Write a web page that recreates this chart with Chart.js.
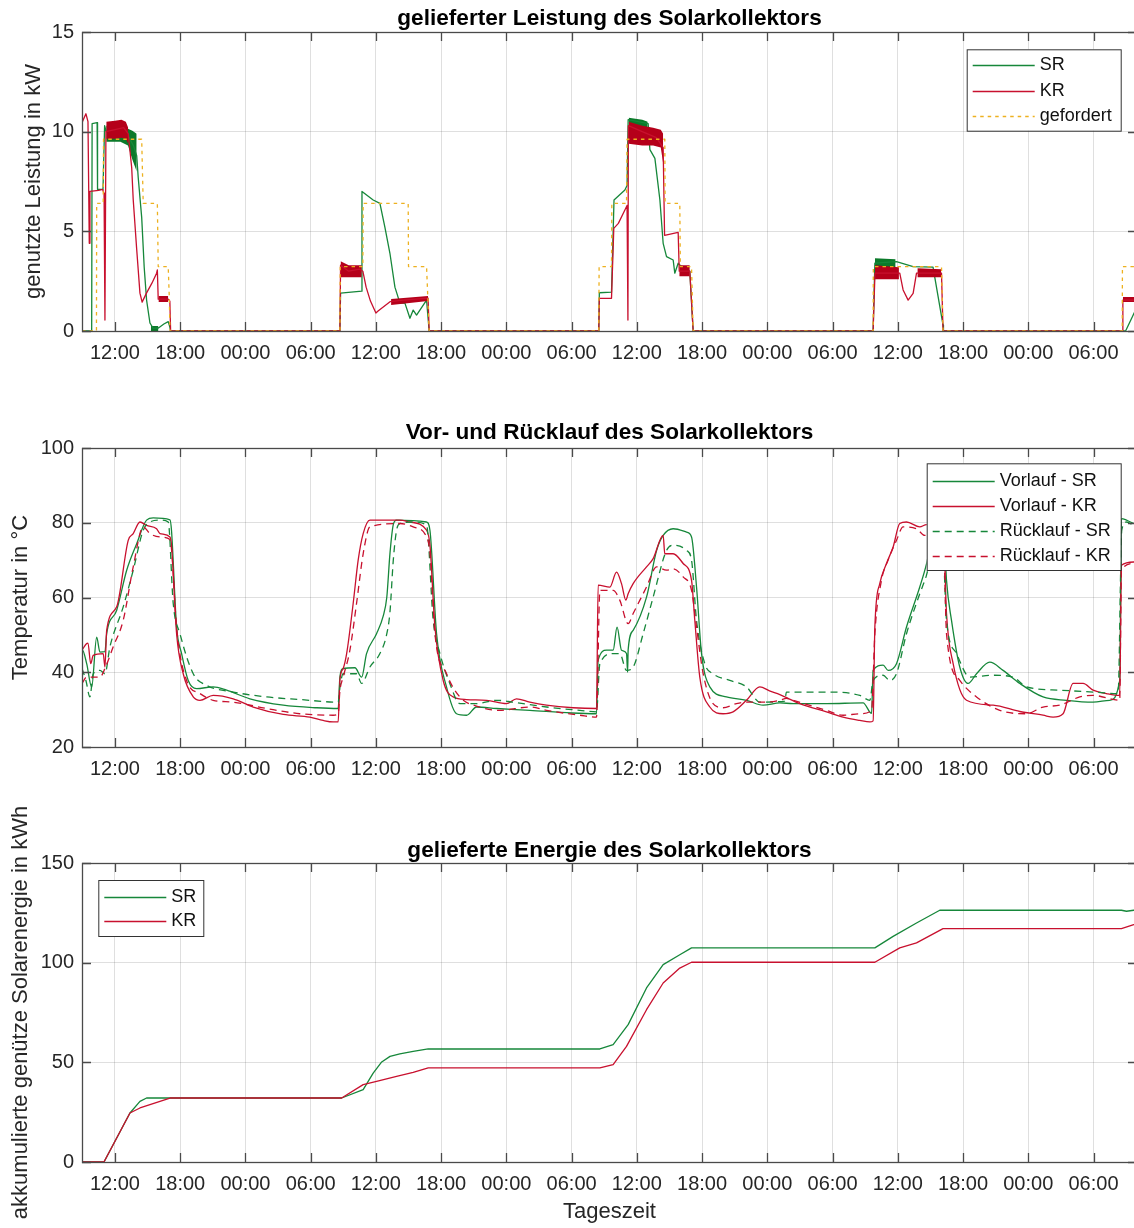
<!DOCTYPE html>
<html>
<head>
<meta charset="utf-8">
<script src="https://cdn.jsdelivr.net/npm/chart.js@4.4.1/dist/chart.umd.min.js"></script>
<style>
html, body { margin: 0; padding: 0; background: #fff; overflow: hidden; width: 1134px; height: 1228px; }
canvas { position: absolute; left: 0; }
</style>
</head>
<body>
<canvas id="c1" width="1140" height="390" style="top:0"></canvas>
<canvas id="c2" width="1140" height="390" style="top:400px"></canvas>
<canvas id="c3" width="1140" height="428" style="top:800px"></canvas>
<script>
// time axis: hours since 00:00 of the first day
const X_MIN = 8.97, X_MAX = 106.0;
const tickHours = [12, 18, 24, 30, 36, 42, 48, 54, 60, 66, 72, 78, 84, 90, 96, 102];

// --- genutzte Leistung in kW ---
const powerSR = [[8.97,0],[9.86,0],[9.9,10.4],[10.36,10.45],[10.4,7.1],[10.9,7.1],[11.05,10.3],[11.2,10.0],[12.5,9.9],[13.2,9.8],[13.7,9.3],[14.0,8.8],[14.14,7.7],[14.46,5.7],[14.69,3.2],[14.91,1.55],[15.22,0.4],[15.52,0.13],[16.0,0.15],[16.5,0.35],[16.9,0.47],[17.05,0.2],[17.12,0],
  [32.69,0],[32.75,1.9],[34.7,2.0],[34.72,7.0],[35.75,6.57],[36.37,6.4],[36.83,5.2],[37.29,3.9],[37.75,2.2],[38.21,1.4],[38.67,1.4],[39.13,0.64],[39.43,1.05],[39.74,0.8],[40.66,1.55],[40.9,0],
  [56.5,0],[56.55,1.92],[57.67,1.95],[57.9,6.57],[58.9,7.07],[59.1,7.3],[59.2,10.6],[61.04,10.4],[61.2,9.1],[61.66,8.66],[62.12,6.57],[62.42,4.4],[62.73,3.73],[63.34,3.56],[63.49,2.9],[63.8,3.4],[64.11,3.23],[64.87,3.0],[65.18,0],
  [81.73,0],[81.89,3.4],[83.88,3.48],[85.41,3.23],[87.24,3.2],[88.16,0.3],[88.2,0],[104.95,0],[106,1.2]];
const powerKR = [[8.97,10.45],[9.33,10.9],[9.52,10.5],[9.64,4.4],[9.7,7.0],[10.5,7.05],[10.87,7.1],[11.0,6.9],[11.08,0.55],[11.17,10.0],[12.0,10.1],[12.8,10.2],[13.22,9.9],[13.54,8.2],[13.68,6.6],[14.0,4.1],[14.3,1.9],[14.5,1.45],[14.9,1.9],[15.4,2.4],[15.83,2.9],[15.9,3.06],[15.98,1.6],[16.9,1.6],[17.05,1.5],[17.12,0],
  [32.69,0],[32.75,3.3],[33.5,3.0],[34.5,3.1],[34.8,3.0],[35.1,2.2],[35.5,1.5],[36.0,0.9],[36.2,1.0],[37.3,1.47],[38.5,1.55],[40.8,1.65],[40.9,0],
  [56.5,0],[56.55,1.64],[57.67,1.64],[57.88,5.15],[58.3,5.4],[58.9,6.07],[59.1,6.3],[59.18,0.55],[59.22,10.3],[60.5,10.0],[61.8,9.7],[62.42,9.2],[62.55,4.8],[63.8,4.95],[63.9,3.0],[64.87,3.0],[65.18,0],
  [81.73,0],[81.9,2.9],[84.18,2.9],[84.49,2.06],[84.95,1.55],[85.41,1.89],[85.72,2.9],[88.02,2.9],[88.16,0],[104.64,0],[104.7,1.55],[106,1.55]];
const powerReq = [[8.97,0],[10.3,0],[10.32,6.4],[10.92,6.4],[10.95,9.62],[14.46,9.62],[14.6,6.4],[15.9,6.4],[15.98,3.23],[16.9,3.23],[17.0,1.67],[17.06,0],
  [32.69,0],[32.72,3.23],[34.8,3.23],[34.83,6.4],[38.97,6.4],[39.0,3.23],[40.66,3.23],[40.9,0],
  [56.5,0],[56.53,3.23],[57.67,3.23],[57.7,6.4],[59.05,6.4],[59.1,9.62],[62.57,9.62],[62.6,6.4],[63.95,6.4],[64.0,3.23],[65.03,3.23],[65.18,0],
  [81.73,0],[81.75,3.23],[88.02,3.23],[88.16,0],[104.64,0],[104.66,3.23],[106,3.23]];
// noisy stretches of the measured power: [hour, low, high]
const bandsSR = [
  [[11.2,9.5,10.3],[12.5,9.5,10.25],[13.2,9.3,10.15],[13.6,8.6,10.05],[14.0,8.0,9.9]],
  [[15.3,0,0.25],[16.0,0,0.25]],
  [[59.25,10.0,10.7],[60.5,9.9,10.6],[61.0,9.6,10.5]],
  [[81.9,3.1,3.65],[83.8,3.2,3.6]]
];
const bandsKR = [
  [[11.2,9.65,10.5],[12.0,9.65,10.55],[12.6,9.7,10.6],[13.0,9.65,10.5],[13.22,9.4,10.2]],
  [[16.0,1.45,1.75],[16.9,1.45,1.75]],
  [[32.75,2.7,3.5],[33.5,2.7,3.3],[34.7,2.7,3.3]],
  [[37.4,1.3,1.6],[40.8,1.5,1.75]],
  [[59.25,9.4,10.5],[60.5,9.3,10.3],[61.5,9.3,10.2],[62.2,9.2,10.1],[62.42,8.4,9.9]],
  [[63.9,2.75,3.3],[64.87,2.75,3.3]],
  [[81.9,2.6,3.3],[84.1,2.6,3.2]],
  [[85.8,2.7,3.15],[88.0,2.7,3.1]],
  [[104.7,1.45,1.7],[106,1.45,1.7]]
];

// --- Temperatur in °C ---
const vorlaufSR = [[8.97,20],[9.0,46],[9.4,42.3],[9.86,36],[10.32,49.4],[10.62,45.4],[11.08,45.5],[11.24,50.3],[12.16,56.6],[13.08,67.3],[14.0,74.4],[14.91,80.7],[15.52,81.3],[17.06,80.8],[17.2,78],[17.67,52.1],[18.13,45],[18.74,37.8],[19.51,35.6],[21.03,36.1],[22.27,35.2],[24.41,32.9],[27.48,31.2],[30.55,30.5],[32.53,30.3],
  [32.69,38.7],[32.99,41],[34.07,41.2],[34.69,38.7],[35.14,45],[36.06,50.3],[36.67,55],[37.0,60],[37.3,72],[37.6,79.5],[37.9,80.7],[40.66,80.2],[40.97,78],[41.58,50.3],[42.5,36],[43.42,28.9],[44.34,28.5],[45.26,30.7],[47.1,30.3],[50.16,29.8],[53.99,29.1],[56.29,28.9],
  [56.44,43.2],[57.21,45.9],[57.82,45.9],[58.18,52.1],[58.59,45.9],[59.05,45],[59.15,40],[59.2,46],[59.66,51.2],[60.89,60.1],[61.82,72.6],[62.42,76.6],[63.34,78.4],[64.57,77.5],[65.03,76.2],[65.49,62.8],[65.95,45],[66.71,36.1],[68.24,33.4],[70.08,32.5],[71.61,31.2],[73.15,31.8],[74.37,31.6],[77.44,31.6],[80.81,31.8],[81.59,29],
  [81.73,40.5],[82.65,41.9],[83.11,40.5],[83.88,42.3],[84.8,52.1],[86.02,62.8],[86.64,69],[87.0,74],[87.5,79],[88.2,79.5],[88.35,72],[88.48,64.6],[88.94,53.9],[89.7,41.4],[90.47,37],[91.24,39.6],[92.46,42.7],[93.68,40.5],[95.22,37],[97.36,33.4],[99.51,32.5],[101.96,32],[103.49,32.5],[104.41,37.8],
  [104.57,81.1],[105.03,80.7],[105.7,79.8],[106,79.6]];
const vorlaufKR = [[8.97,45.9],[9.4,47.7],[9.52,47.8],[9.77,42.3],[10.0,44.5],[10.92,45],[11.08,41.4],[11.24,51.2],[12.16,57.5],[13.22,75.3],[13.68,77.1],[14.3,80.2],[14.91,79.3],[15.83,78.4],[16.14,77.1],[17.06,76.2],[17.2,74],[17.67,50.3],[18.28,39.6],[19.2,33.4],[19.82,32.5],[21.03,33.8],[22.88,32.9],[24.72,30.7],[27.48,28.7],[29.93,28],[31.15,27.1],[32.07,26.7],[32.53,26.7],
  [32.69,38],[32.99,41],[33.31,45],[33.91,58.4],[34.37,70],[34.83,77.1],[35.45,80.7],[38.21,80.7],[39.13,80.2],[40.66,78],[40.97,74],[41.43,52.1],[42.19,37.8],[43.11,33.4],[44.34,32.7],[46.18,32.5],[48.01,31.6],[48.93,32.9],[50.16,32],[51.69,31.2],[54.14,30.5],[56.29,30.3],
  [56.44,63.3],[57.52,62.8],[58.13,66.8],[58.59,63.7],[58.99,59.3],[59.2,61],[59.66,63.7],[60.89,68.2],[61.5,70.4],[62.42,76.6],[62.57,71.7],[63.34,71.7],[64.26,69.1],[65.03,64.6],[65.33,53.9],[65.79,38.7],[66.71,30.7],[67.93,28.9],[68.85,29.4],[70.08,32.5],[71.31,36.1],[72.2,35.0],[73.15,34.0],[74.99,31.6],[77.44,29.4],[78.97,28],[80.51,27.1],[81.43,26.7],[81.73,27],
  [81.89,52.1],[82.34,63.7],[82.96,69.1],[83.57,73.5],[84.18,79.8],[84.8,80.2],[86.02,78.9],[86.64,79.5],[87.5,79],[88.2,77],[88.48,55.7],[89.09,42.3],[90.32,32.5],[92.77,31.2],[95.22,29.5],[97.36,28.5],[98.28,28],[99.2,28.9],[100.12,37],[101.04,37],[101.96,35.2],[103.19,34.3],[104.41,33.8],
  [104.57,68.6],[105.7,69.5],[106,69.6]];
const ruecklaufSR = [[8.97,41],[9.33,37.8],[9.7,33.4],[10.0,39.6],[10.62,40.5],[11.08,39.6],[11.54,46.8],[12.76,57.5],[13.68,67.3],[14.6,78],[15.22,80.2],[16.14,80.7],[16.9,80.2],[17.36,58.4],[17.98,50.3],[19.2,39.6],[20.43,36.5],[22.88,34.7],[25.95,33.4],[29.01,32.7],[32.53,32],
  [32.69,36],[32.99,39.6],[34.22,39.6],[34.69,37],[35.45,41.4],[36.37,45],[36.98,50],[37.29,56],[37.6,70],[37.9,78],[38.21,79.8],[39.43,80.2],[40.66,79.3],[41.27,53.9],[41.89,45],[42.8,37],[43.72,31.6],[45.26,31.6],[47.1,32.5],[48.62,32],[51.69,30.7],[54.76,29.8],[56.29,29.4],
  [56.6,42.3],[57.82,45],[58.43,45],[59.05,40.5],[59.66,41.4],[60.58,50.3],[61.5,60.1],[62.73,72.6],[63.34,74],[64.57,72.6],[65.03,70],[65.49,53.9],[66.25,42.3],[67.01,39.6],[68.55,37.8],[70.08,36.1],[71.31,32],[73.6,32.3],[73.76,34.7],[77.44,34.7],[80.51,33.8],[81.43,32.5],
  [81.73,37.8],[82.65,39.2],[83.26,37.8],[83.88,39.6],[84.8,50.3],[86.02,61],[86.64,66],[87.3,74],[88.1,76],[88.48,53.9],[89.4,45],[90.62,38.7],[92.77,39.2],[94.6,38.7],[95.83,36.1],[98.9,35.2],[101.96,34.7],[104.26,34.3],
  [104.6,78],[105.03,80.2],[105.7,79.3],[106,79.2]];
const ruecklaufKR = [[8.97,37],[9.4,38.7],[10.62,38.7],[11.08,41],[11.84,46.8],[12.76,53.9],[13.68,68.2],[14.6,78.9],[15.22,77.1],[16.14,76.2],[17.06,75.5],[17.2,73],[17.67,52.1],[18.59,37.8],[19.82,34.3],[21.03,32.5],[22.88,32],[25.95,30.3],[29.01,28.9],[32.07,28.5],[32.53,28.9],
  [32.69,35],[32.99,38.7],[33.61,45.9],[34.22,58.4],[34.83,71.7],[35.45,78.9],[38.21,79.8],[39.43,78.9],[40.66,76.2],[40.97,72],[41.43,50.3],[42.5,39.6],[43.72,33.4],[45.56,30.7],[47.4,29.8],[50.16,30.7],[51.69,29.8],[54.76,28.5],[56.29,28],
  [56.6,61.9],[57.82,61.9],[58.43,59.3],[59.2,53],[59.66,55.7],[60.89,62.8],[61.82,68.2],[62.73,67.3],[63.34,67.7],[64.26,65.5],[65.03,61.9],[65.49,52.1],[66.1,39.6],[67.01,31.6],[67.93,30.5],[69.16,31.6],[70.08,32],[71.91,32],[73.15,32.5],[73.76,33.0],[74.37,32.5],[77.44,29.8],[78.97,28.5],[80.51,28.9],[81.59,29.8],
  [81.89,50.3],[82.5,64.6],[83.11,70],[83.88,75.3],[84.49,78.9],[85.72,78.4],[86.48,76.6],[87.3,77],[88.2,75],[88.48,50.3],[89.7,37.8],[91.24,33.4],[93.38,29.8],[95.83,28.9],[97.36,30.7],[98.9,31.2],[100.74,33.4],[101.96,33.8],[104.41,32.5],
  [104.57,67.3],[105.7,69.1],[106,69.2]];

// --- akkumulierte Solarenergie in kWh ---
const energySR = [[8.97,0],[10.99,0],[13.38,24.6],[14.3,30.4],[14.91,32.1],[17.06,32.1],[32.85,32.1],[34.83,36.3],[35.75,44.6],[36.5,50],[37.3,53],[38.2,54.2],[39.43,55.5],[40.81,56.7],[56.6,56.7],[57.82,58.9],[59.2,68.9],[60.89,87.3],[62.42,99],[63.95,104],[65.03,107.4],[81.89,107.4],[83.57,113.2],[85.72,119.9],[87.86,126.3],[104.57,126.3],[105.03,125.8],[105.7,126.3],[106,126.3]];
const energyKR = [[8.97,0],[10.99,0],[13.38,24.6],[14.3,27.1],[15.22,28.8],[17.06,32.1],[32.85,32.1],[34.83,38.8],[36.06,40.5],[37.9,43],[39.43,45],[40.81,47.2],[56.6,47.2],[57.82,48.8],[59.05,58],[60.89,76.4],[62.42,89.8],[63.95,97.3],[65.03,100.2],[81.89,100.2],[84.18,107.4],[85.72,109.9],[88.16,117.1],[104.57,117.1],[105.7,119.1],[106,119.4]];

const GREEN = '#16873a', RED = '#c8102e', YELLOW = '#EDB120';
const GREEN_BAND = '#0b7a2a', RED_BAND = '#b5001a';
const FONT = '"Liberation Sans", Arial, Helvetica, sans-serif';
const TXT = '#262626';
const GRID = 'rgba(38,38,38,0.15)';

function line(label, pts, color, order, dash, smooth) {
  return { label: label, data: pts, borderColor: color, borderWidth: 1.3, borderDash: dash || [],
           pointRadius: 0, fill: false, order: order,
           cubicInterpolationMode: smooth ? 'monotone' : 'default', tension: 0 };
}

function bandSets(bands, color, order) {
  const out = [];
  bands.forEach(b => {
    out.push({ band: true, data: b.map(p => [p[0], p[2]]), borderColor: 'rgba(0,0,0,0)', borderWidth: 0,
               pointRadius: 0, backgroundColor: color, fill: '+1', order: order });
    out.push({ band: true, data: b.map(p => [p[0], p[1]]), borderColor: 'rgba(0,0,0,0)', borderWidth: 0,
               pointRadius: 0, fill: false, order: order });
  });
  return out;
}

// box and inward ticks like the original figure
const matlabAxes = {
  id: 'matlabAxes',
  afterDatasetsDraw(chart) {
    const { ctx, chartArea: a, scales: { x, y } } = chart;
    const TL = 9;
    ctx.save();
    ctx.strokeStyle = '#4a4a4a';
    ctx.lineWidth = 1.3;
    ctx.strokeRect(a.left + 0.5, a.top + 0.5, a.right - a.left, a.bottom - a.top);
    ctx.beginPath();
    x.ticks.forEach(t => {
      const px = Math.round(x.getPixelForValue(t.value)) + 0.5;
      ctx.moveTo(px, a.top); ctx.lineTo(px, a.top + TL);
      ctx.moveTo(px, a.bottom); ctx.lineTo(px, a.bottom - TL);
    });
    y.ticks.forEach(t => {
      const py = Math.round(y.getPixelForValue(t.value)) + 0.5;
      ctx.moveTo(a.left, py); ctx.lineTo(a.left + TL, py);
      ctx.moveTo(a.right, py); ctx.lineTo(a.right - TL, py);
    });
    ctx.stroke();
    ctx.restore();
  }
};

const boxLegend = {
  id: 'boxLegend',
  afterDraw(chart, args, o) {
    const ctx = chart.ctx;
    const items = chart.data.datasets.filter(d => !d.band);
    ctx.save();
    ctx.fillStyle = '#fff';
    ctx.fillRect(o.x, o.y, o.w, o.h);
    ctx.strokeStyle = '#333';
    ctx.lineWidth = 1;
    ctx.strokeRect(o.x + 0.5, o.y + 0.5, o.w, o.h);
    ctx.font = '18px ' + FONT;
    ctx.textBaseline = 'middle';
    items.forEach((d, i) => {
      const yy = Math.round(o.y + o.first + i * o.row) + 0.5;
      ctx.strokeStyle = d.borderColor;
      ctx.lineWidth = d.borderWidth;
      ctx.setLineDash(d.borderDash || []);
      ctx.beginPath();
      ctx.moveTo(o.x + 6, yy);
      ctx.lineTo(o.x + 68, yy);
      ctx.stroke();
      ctx.setLineDash([]);
      ctx.fillStyle = '#111';
      ctx.fillText(d.label, o.x + 73, yy);
    });
    ctx.restore();
  }
};

function axisX(height, title) {
  return {
    type: 'linear', min: X_MIN, max: X_MAX,
    afterBuildTicks: ax => { ax.ticks = tickHours.map(v => ({ value: v })); },
    afterFit: ax => { ax.height = height; },
    ticks: { padding: 10.5, color: TXT, font: { family: FONT, size: 20 }, maxRotation: 0, autoSkip: false,
             callback: v => String(v % 24).padStart(2, '0') + ':00' },
    grid: { color: GRID, drawTicks: false },
    border: { display: false },
    title: title ? { display: true, text: title, color: TXT, font: { family: FONT, size: 22 }, padding: { top: 0, bottom: 2.5 } }
                 : { display: false }
  };
}

function axisY(min, max, step, title, pad) {
  return {
    min: min, max: max,
    afterFit: ax => { ax.width = 82; },
    ticks: { stepSize: step, padding: 8, color: TXT, font: { family: FONT, size: 20 } },
    grid: { color: GRID, drawTicks: false },
    border: { display: false },
    title: { display: true, text: title, color: TXT, font: { family: FONT, size: 22 }, padding: { top: pad, bottom: 0 } }
  };
}

function makeChart(id, datasets, opt) {
  return new Chart(document.getElementById(id), {
    type: 'line',
    data: { datasets: datasets },
    options: {
      responsive: false, animation: false, devicePixelRatio: 1,
      layout: { padding: { left: 0, right: 3, top: 0, bottom: 0 } },
      elements: { line: { borderJoinStyle: 'round' } },
      scales: { x: axisX(opt.xh, opt.xtitle), y: opt.y },
      plugins: {
        legend: { display: false },
        tooltip: { enabled: false },
        title: { display: true, text: opt.title, fullSize: false, color: '#000',
                 font: { family: FONT, size: 22.6, weight: 'bold', lineHeight: 1 },
                 padding: { top: opt.tp, bottom: opt.tb } },
        boxLegend: opt.legend
      }
    },
    plugins: [matlabAxes, boxLegend]
  });
}

makeChart('c1', [
  line('SR', powerSR, GREEN, 5),
  line('KR', powerKR, RED, 3),
  line('gefordert', powerReq, YELLOW, 1, [3.5, 4]),
  ...bandSets(bandsSR, GREEN_BAND, 6),
  ...bandSets(bandsKR, RED_BAND, 4)
], {
  title: 'gelieferter Leistung des Solarkollektors', tp: 7.9, tb: 1.5, xh: 59,
  y: axisY(0, 15, 5, 'genutzte Leistung in kW', 20.5),
  legend: { x: 966.7, y: 49.3, w: 154, h: 81.4, first: 15.7, row: 25.5 }
});

makeChart('c2', [
  line('Vorlauf - SR', vorlaufSR, GREEN, 4, null, true),
  line('Vorlauf - KR', vorlaufKR, RED, 3, null, true),
  line('Rücklauf - SR', ruecklaufSR, GREEN, 2, [7, 5], true),
  line('Rücklauf - KR', ruecklaufKR, RED, 1, [7, 5], true)
], {
  title: 'Vor- und Rücklauf des Solarkollektors', tp: 21.5, tb: 3.9, xh: 43,
  y: axisY(20, 100, 20, 'Temperatur in °C', 7.5),
  legend: { x: 926.7, y: 63.3, w: 194, h: 106.7, first: 17.4, row: 25 }
});

makeChart('c3', [
  line('SR', energySR, GREEN, 2),
  line('KR', energyKR, RED, 1)
], {
  title: 'gelieferte Energie des Solarkollektors', tp: 39, tb: 1.4, xh: 66, xtitle: 'Tageszeit',
  y: axisY(0, 150, 50, 'akkumulierte genütze Solarenergie in kWh', 8),
  legend: { x: 98.3, y: 80, w: 105, h: 56, first: 16.7, row: 24 }
});
</script>
</body>
</html>
